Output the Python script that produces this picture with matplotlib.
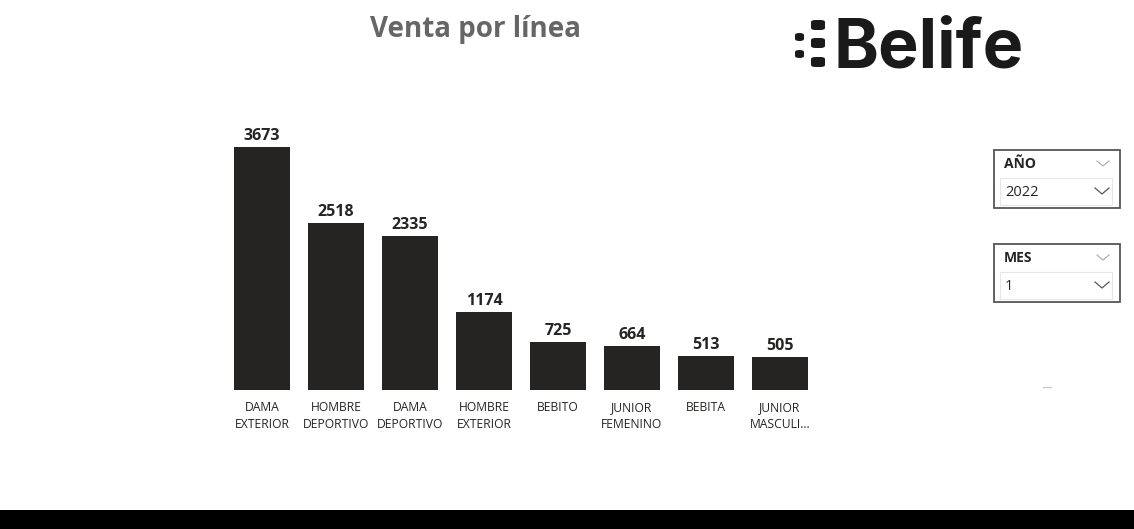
import matplotlib.pyplot as plt
from matplotlib.patches import Rectangle, FancyBboxPatch

plt.rcParams['font.family'] = ['Open Sans', 'DejaVu Sans']

categories = ['DAMA\nEXTERIOR', 'HOMBRE\nDEPORTIVO', 'DAMA\nDEPORTIVO', 'HOMBRE\nEXTERIOR',
              'BEBITO', 'JUNIOR\nFEMENINO', 'BEBITA', 'JUNIOR\nMASCULI...']
ventas = [3673, 2518, 2335, 1174, 725, 664, 513, 505]

W, H = 1134, 529
fig = plt.figure(figsize=(W / 100, H / 100), dpi=100)
fig.patch.set_facecolor('white')


def fx(px):
    return px / W


def fy(py):
    return 1 - py / H


# bar chart
ax = fig.add_axes([fx(225), fy(390), fx(592), 290 / H])
x = range(len(categories))
ax.bar(x, ventas, width=0.77, color='#252423')
ax.set_xlim(-0.5, len(categories) - 0.5)
ax.set_ylim(0, 4383)
for xi, v in zip(x, ventas):
    ax.text(xi, v + 45, str(v), ha='center', va='bottom', fontsize=11.5,
            fontweight='bold', color='#252423')
ax.set_xticks(list(x))
ax.set_xticklabels(categories, fontsize=8.7, color='#252423', linespacing=1.4,
                   va='top')
ax.tick_params(axis='x', length=0, pad=8)
ax.set_yticks([])
for s in ax.spines.values():
    s.set_visible(False)

# title
fig.text(fx(475), fy(30), 'Venta por línea', ha='center', va='center',
         fontsize=20, fontweight='bold', color='#666666')

# logo
fig.text(fx(834), fy(67), 'Belife', ha='left', va='baseline', fontsize=49,
         fontweight='bold', color='#1a1a1a', family=['Inter', 'DejaVu Sans'])
for (px, py, w, h) in [(795, 33, 9, 8), (795, 50, 9, 8),
                       (811, 20, 14, 10), (811, 38, 14, 10), (811, 57, 14, 10)]:
    fig.patches.append(FancyBboxPatch((fx(px), fy(py + h)), fx(w), h / H,
                                      boxstyle='round,pad=0,rounding_size=0.004',
                                      transform=fig.transFigure,
                                      facecolor='#1a1a1a', edgecolor='none'))

# slicers
slicers = [('AÑO', '2022', 150), ('MES', '1', 244)]
for name, val, top in slicers:
    fig.patches.append(Rectangle((fx(994), fy(top + 58)), fx(126), 58 / H,
                                 transform=fig.transFigure, facecolor='white',
                                 edgecolor='#555555', linewidth=1.3))
    fig.patches.append(Rectangle((fx(1000), fy(top + 55)), fx(112), 27 / H,
                                 transform=fig.transFigure, facecolor='white',
                                 edgecolor='#e6e6e6', linewidth=0.8))
    fig.text(fx(1004), fy(top + 14), name, ha='left', va='center', fontsize=10,
             fontweight='bold', color='#252423')
    fig.text(fx(1005), fy(top + 43), val, ha='left', va='center', fontsize=10.5,
             color='#252423')
    fig.lines.append(plt.Line2D([fx(1097), fx(1103), fx(1109)],
                                [fy(top + 11), fy(top + 16), fy(top + 11)],
                                transform=fig.transFigure, color='#aaaaaa', lw=0.8))
    fig.lines.append(plt.Line2D([fx(1095), fx(1102), fx(1109)],
                                [fy(top + 38), fy(top + 44), fy(top + 38)],
                                transform=fig.transFigure, color='#555555', lw=0.9))

# small dash
fig.lines.append(plt.Line2D([fx(1043), fx(1051)], [fy(387), fy(387)],
                            transform=fig.transFigure, color='#cccccc', lw=1))

# bottom black band
fig.patches.append(Rectangle((0, 0), 1, 19 / H, transform=fig.transFigure,
                             facecolor='black', edgecolor='none'))

fig.savefig('out.png', dpi=100)
